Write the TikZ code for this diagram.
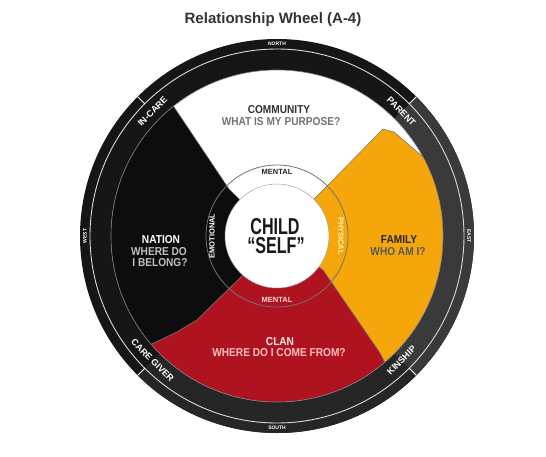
\documentclass[tikz,border=0pt]{standalone}
\usepackage{fontspec}
\setmainfont{Liberation Sans}
\newfontfamily\wlab[FakeStretch=0.88]{Liberation Sans}
\newfontfamily\wbig[FakeStretch=0.7]{Liberation Sans}
\definecolor{wyellow}{HTML}{F5A60A}
\definecolor{wred}{HTML}{B01320}
\definecolor{wblack}{HTML}{0D0D0D}
\definecolor{ringA}{HTML}{161616}
\definecolor{ringE}{HTML}{3A3A3A}
\definecolor{ringS}{HTML}{262626}
\tikzset{
 qlab/.style={inner sep=0pt, font=\wlab\bfseries\fontsize{11.5}{12}\selectfont},
 rlab/.style={inner sep=0pt, text=white, font=\bfseries\fontsize{9}{10}\selectfont},
 blab/.style={inner sep=0pt, font=\bfseries\fontsize{7.5}{8}\selectfont},
 clab/.style={inner sep=0pt, text=white, font=\bfseries\fontsize{5}{5}\selectfont},
 edgeline/.style={draw=black!55, line width=0.5pt},
}
\begin{document}
\begin{tikzpicture}[x=1pt,y=1pt]
\useasboundingbox (-277,-220) rectangle (269,236);
\fill[white] (-277,-220) rectangle (269,236);
% title
\node[inner sep=0pt, text=black!80, font=\bfseries\fontsize{15}{16}\selectfont] (title) at (-4,216) {Relationship Wheel (A-4)};
% outer ring
\fill[ringA] (0,0) circle (197);
\fill[ringE] (45:197) arc (45:-45:197) -- (-45:166) arc (-45:45:166) -- cycle;
\fill[ringS] (-45:197) arc (-45:-135:197) -- (-135:166) arc (-135:-45:166) -- cycle;
\draw[white!85!black, line width=0.9pt] (0,0) circle (187);
\foreach \a in {45,135,225,315} \draw[white, line width=0.8pt] (\a:187) -- (\a:197);
% quadrants
\begin{scope}
\clip (0,0) circle (166);
\fill[white] (0,0) circle (166);
\filldraw[fill=wblack, edgeline] (0,0) -- (-48,47) -- (-115,147) -- (-300,147) -- (-300,-150) -- (-150,-120) -- (-100,-96) -- (-80,-84) -- (-37,-42) -- cycle;
\filldraw[fill=wyellow, edgeline] (0,0) -- (50,50) -- (106,107) -- (117,104) -- (145,80) -- (300,80) -- (300,-200) -- (107,-200) -- (107,-125) -- (103,-117) -- (46,-34) -- cycle;
\filldraw[fill=wred, edgeline] (0,0) -- (46,-34) -- (103,-117) -- (107,-125) -- (107,-300) -- (-200,-300) -- (-150,-120) -- (-100,-96) -- (-80,-84) -- (-37,-42) -- cycle;
\end{scope}
\draw[black!50, line width=0.6pt] (0,0) circle (166);
% band and centre
\draw[black!55, line width=0.8pt] (0,0) circle (71);
\filldraw[fill=white, draw=black!35, line width=0.5pt] (0,0) circle (52);
% quadrant texts
\node[qlab, text=black!80] (community) at (2,126) {COMMUNITY};
\node[qlab, text=black!55] (purpose) at (4,114) {WHAT IS MY PURPOSE?};
\node[qlab, text=white] (nation) at (-116,-4) {NATION};
\node[qlab, text=black!25] (nq1) at (-118,-16) {WHERE DO};
\node[qlab, text=black!25] (nq2) at (-117,-27) {I BELONG?};
\node[qlab, text=black!85] (family) at (122,-4) {FAMILY};
\node[qlab, text=black!65] (whoami) at (121,-16) {WHO AM I?};
\node[qlab, text=red!8!white] (clan) at (3,-106) {CLAN};
\node[qlab, text=red!25!white] (clanq) at (2,-117) {WHERE DO I COME FROM?};
\node[inner sep=0pt, text=black!90, font=\wbig\bfseries\fontsize{23}{24}\selectfont] (child) at (-2,9) {CHILD};
\node[inner sep=0pt, text=black!90, font=\wbig\bfseries\fontsize{23}{24}\selectfont] (self) at (-1,-10) {“SELF”};
% band labels
\node[blab, text=black!85] (mtop) at (90:64) {MENTAL};
\node[blab, text=white, rotate=90] (emo) at (180:65) {EMOTIONAL};
\node[blab, text=yellow!30!white, rotate=-90] (phys) at (0:64) {PHYSICAL};
\node[blab, text=red!15!white] (mbot) at (270:64) {MENTAL};
% ring labels
\node[rlab, rotate=45] (incare) at (135:176) {IN-CARE};
\node[rlab, rotate=-45] (parent) at (45:176) {PARENT};
\node[rlab, rotate=45] (kinship) at (-45:176) {KINSHIP};
\node[rlab, rotate=-45] (caregiver) at (-135:176) {CARE GIVER};
% compass labels
\node[clab] (north) at (90:192) {NORTH};
\node[clab] (south) at (270:192) {SOUTH};
\node[clab, rotate=90] (west) at (180:192) {WEST};
\node[clab, rotate=-90] (east) at (0:192) {EAST};
\end{tikzpicture}
\end{document}
